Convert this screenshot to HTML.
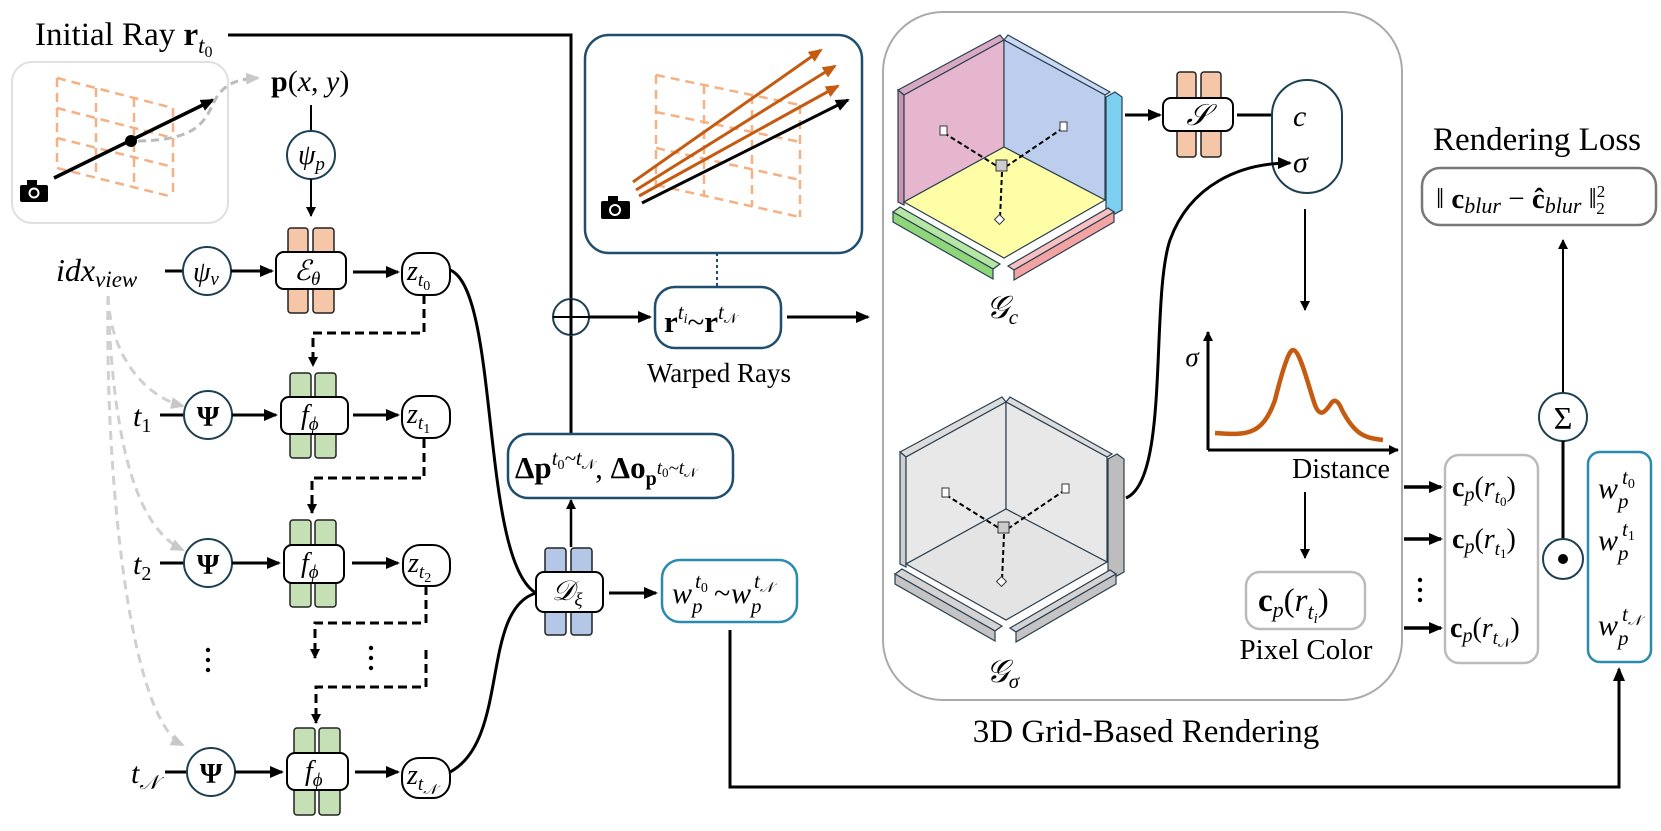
<!DOCTYPE html>
<html><head><meta charset="utf-8"><style>
html,body{margin:0;padding:0;background:#fff}
svg{display:block}
text{font-family:"Liberation Serif",serif;fill:#000}
.i{font-style:italic}
.b{font-weight:bold}
</style></head><body>
<svg width="1661" height="831" viewBox="0 0 1661 831" xmlns="http://www.w3.org/2000/svg">
<defs>
<marker id="ah" markerUnits="userSpaceOnUse" markerWidth="14" markerHeight="12" refX="12" refY="6" orient="auto"><path d="M0,0 L14,6 L0,12 z" fill="#000"/></marker>
<marker id="as" markerUnits="userSpaceOnUse" markerWidth="10" markerHeight="10" refX="9" refY="5" orient="auto"><path d="M0,0 L10,5 L0,10 z" fill="#000"/></marker>
<marker id="ag" markerUnits="userSpaceOnUse" markerWidth="14" markerHeight="12" refX="12" refY="6" orient="auto"><path d="M0,0 L14,6 L0,12 z" fill="#c8c8c8"/></marker>
<marker id="ao" markerUnits="userSpaceOnUse" markerWidth="14" markerHeight="12" refX="12" refY="6" orient="auto"><path d="M0,0 L14,6 L0,12 z" fill="#c55a11"/></marker>
</defs>

<!-- Initial ray -->
<text x="35" y="45" font-size="33">Initial Ray <tspan class="b">r</tspan><tspan class="i" font-size="23" dy="8">t</tspan><tspan font-size="16" dy="4">0</tspan></text>
<path d="M228,35 H571 V434" fill="none" stroke="#000" stroke-width="3"/>

<!-- left image box -->
<rect x="12" y="62" width="216" height="161" rx="20" fill="#fff" stroke="#e0e0e0" stroke-width="2"/>
<g stroke="#f4b183" stroke-width="2.5" stroke-dasharray="9 6" fill="none">
<line x1="57" y1="78" x2="173" y2="108"/><line x1="57" y1="108" x2="173" y2="138"/><line x1="57" y1="138" x2="173" y2="167"/><line x1="57" y1="168" x2="173" y2="197"/>
<line x1="57" y1="78" x2="57" y2="168"/><line x1="96" y1="88" x2="96" y2="178"/><line x1="134" y1="98" x2="134" y2="188"/><line x1="173" y1="108" x2="173" y2="197"/>
</g>
<line x1="54" y1="178" x2="213" y2="100" stroke="#000" stroke-width="3.5" marker-end="url(#ah)"/>
<circle cx="131" cy="141" r="6" fill="#000"/>
<path d="M138,141 C200,140 205,120 215,100 C225,82 240,79 258,78" fill="none" stroke="#bbb" stroke-width="3" stroke-dasharray="8 5" marker-end="url(#ag)"/>
<g><rect x="20" y="185" width="28" height="17" rx="2" fill="#000"/><rect x="27" y="180" width="10" height="6" fill="#000"/><circle cx="34" cy="193" r="5.5" fill="#fff"/><circle cx="34" cy="193" r="3.5" fill="#000"/></g>

<text x="271" y="91" font-size="30"><tspan class="b">p</tspan>(<tspan class="i">x</tspan>, <tspan class="i">y</tspan>)</text>
<line x1="311" y1="105" x2="311" y2="131" stroke="#000" stroke-width="2"/>
<circle cx="311" cy="155" r="24" fill="#fff" stroke="#1d3f52" stroke-width="2"/>
<text x="298" y="164" font-size="28" class="i">ψ<tspan font-size="19" dy="6">p</tspan></text>
<line x1="311" y1="179" x2="311" y2="216" stroke="#000" stroke-width="2" marker-end="url(#as)"/>

<!-- E theta -->
<rect x="288" y="228" width="20" height="85" rx="3" fill="#f5c6a8" stroke="#222" stroke-width="1.5"/>
<rect x="313" y="228" width="21" height="85" rx="3" fill="#f5c6a8" stroke="#222" stroke-width="1.5"/>
<rect x="276" y="252" width="70" height="37" rx="8" fill="#fff" stroke="#000" stroke-width="2"/>
<text x="294" y="280" font-size="28" class="i">ℰ<tspan font-size="19" dy="5">θ</tspan></text>

<text x="56" y="281" font-size="32" class="i">idx<tspan font-size="23" dy="6">view</tspan></text>
<line x1="165" y1="271" x2="183" y2="271" stroke="#000" stroke-width="3"/>
<circle cx="207" cy="271" r="24" fill="#fff" stroke="#1d3f52" stroke-width="2"/>
<text x="193" y="281" font-size="28" class="i">ψ<tspan font-size="19" dy="4">v</tspan></text>
<line x1="231" y1="271" x2="272" y2="271" stroke="#000" stroke-width="3" marker-end="url(#ah)"/>
<line x1="353" y1="272" x2="398" y2="272" stroke="#000" stroke-width="3" marker-end="url(#ah)"/>
<rect x="402" y="253" width="48" height="42" rx="17" fill="#fff" stroke="#000" stroke-width="2"/>
<text x="407" y="280" font-size="28" class="i">z<tspan font-size="19" dy="6">t</tspan><tspan font-size="14" dy="4" font-style="normal">0</tspan></text>

<!-- gray dashed curves -->
<g fill="none" stroke="#d0d0d0" stroke-width="3" stroke-dasharray="9 6">
<path d="M108,296 C110,350 140,395 183,406" marker-end="url(#ag)"/>
<path d="M108,296 C112,420 130,525 183,550" marker-end="url(#ag)"/>
<path d="M108,296 C105,480 130,720 183,745" marker-end="url(#ag)"/>
</g>

<!-- rows -->
<g>
<text x="133" y="426" font-size="30" class="i">t<tspan font-size="20" dy="6" font-style="normal">1</tspan></text>
<line x1="160" y1="415" x2="184" y2="415" stroke="#000" stroke-width="3"/>
<circle cx="208" cy="415" r="24" fill="#fff" stroke="#1d3f52" stroke-width="2"/>
<text x="208" y="426" font-size="29" class="b" text-anchor="middle">Ψ</text>
<line x1="232" y1="415" x2="276" y2="415" stroke="#000" stroke-width="3" marker-end="url(#ah)"/>
<rect x="290" y="373" width="21" height="85" rx="3" fill="#c5e0b4" stroke="#222" stroke-width="1.5"/>
<rect x="315" y="373" width="21" height="85" rx="3" fill="#c5e0b4" stroke="#222" stroke-width="1.5"/>
<rect x="281" y="397" width="67" height="37" rx="8" fill="#fff" stroke="#000" stroke-width="2"/>
<text x="301" y="424" font-size="28" class="i">f<tspan font-size="19" dy="6">ϕ</tspan></text>
<line x1="353" y1="415" x2="398" y2="415" stroke="#000" stroke-width="3" marker-end="url(#ah)"/>
<rect x="402" y="396" width="48" height="42" rx="17" fill="#fff" stroke="#000" stroke-width="2"/>
<text x="407" y="423" font-size="28" class="i">z<tspan font-size="19" dy="6">t</tspan><tspan font-size="14" dy="4" font-style="normal">1</tspan></text>
</g>
<g>
<text x="133" y="574" font-size="30" class="i">t<tspan font-size="20" dy="6" font-style="normal">2</tspan></text>
<line x1="160" y1="563" x2="184" y2="563" stroke="#000" stroke-width="3"/>
<circle cx="208" cy="563" r="24" fill="#fff" stroke="#1d3f52" stroke-width="2"/>
<text x="208" y="574" font-size="29" class="b" text-anchor="middle">Ψ</text>
<line x1="232" y1="563" x2="279" y2="563" stroke="#000" stroke-width="3" marker-end="url(#ah)"/>
<rect x="290" y="520" width="21" height="87" rx="3" fill="#c5e0b4" stroke="#222" stroke-width="1.5"/>
<rect x="315" y="520" width="21" height="87" rx="3" fill="#c5e0b4" stroke="#222" stroke-width="1.5"/>
<rect x="284" y="545" width="60" height="38" rx="8" fill="#fff" stroke="#000" stroke-width="2"/>
<text x="301" y="572" font-size="28" class="i">f<tspan font-size="19" dy="6">ϕ</tspan></text>
<line x1="352" y1="563" x2="398" y2="563" stroke="#000" stroke-width="3" marker-end="url(#ah)"/>
<rect x="403" y="545" width="47" height="41" rx="17" fill="#fff" stroke="#000" stroke-width="2"/>
<text x="408" y="572" font-size="28" class="i">z<tspan font-size="19" dy="6">t</tspan><tspan font-size="14" dy="4" font-style="normal">2</tspan></text>
</g>
<g>
<text x="131" y="783" font-size="30" class="i">t<tspan font-size="20" dy="6">𝒩</tspan></text>
<line x1="165" y1="772" x2="187" y2="772" stroke="#000" stroke-width="3"/>
<circle cx="211" cy="772" r="24" fill="#fff" stroke="#1d3f52" stroke-width="2"/>
<text x="211" y="783" font-size="29" class="b" text-anchor="middle">Ψ</text>
<line x1="235" y1="772" x2="282" y2="772" stroke="#000" stroke-width="3" marker-end="url(#ah)"/>
<rect x="294" y="728" width="21" height="87" rx="3" fill="#c5e0b4" stroke="#222" stroke-width="1.5"/>
<rect x="319" y="728" width="21" height="87" rx="3" fill="#c5e0b4" stroke="#222" stroke-width="1.5"/>
<rect x="287" y="753" width="61" height="37" rx="8" fill="#fff" stroke="#000" stroke-width="2"/>
<text x="305" y="780" font-size="28" class="i">f<tspan font-size="19" dy="6">ϕ</tspan></text>
<line x1="355" y1="772" x2="398" y2="772" stroke="#000" stroke-width="3" marker-end="url(#ah)"/>
<rect x="402" y="758" width="48" height="40" rx="17" fill="#fff" stroke="#000" stroke-width="2"/>
<text x="407" y="784" font-size="28" class="i">z<tspan font-size="19" dy="6">t</tspan><tspan font-size="14" dy="4">𝒩</tspan></text>
</g>

<!-- dashed chain -->
<g fill="none" stroke="#000" stroke-width="3" stroke-dasharray="9 5">
<path d="M424,295 V333 H313 V366" marker-end="url(#as)"/>
<path d="M424,439 V478 H312 V513" marker-end="url(#as)"/>
<path d="M426,586 V623 H315 V658" marker-end="url(#as)"/>
<path d="M426,650 V687 H316 V723" marker-end="url(#as)"/>
</g>
<g fill="#000"><circle cx="208" cy="650" r="2.2"/><circle cx="208" cy="660" r="2.2"/><circle cx="208" cy="670" r="2.2"/>
<circle cx="371" cy="648" r="2.2"/><circle cx="371" cy="658" r="2.2"/><circle cx="371" cy="668" r="2.2"/></g>

<!-- curves to D -->
<path d="M450,270 C500,290 480,560 536,593" fill="none" stroke="#000" stroke-width="3"/>
<path d="M450,772 C510,740 480,610 536,593" fill="none" stroke="#000" stroke-width="3"/>

<!-- D xi -->
<rect x="545" y="548" width="21" height="87" rx="3" fill="#b4c7e7" stroke="#222" stroke-width="1.5"/>
<rect x="571" y="548" width="21" height="87" rx="3" fill="#b4c7e7" stroke="#222" stroke-width="1.5"/>
<rect x="536" y="572" width="67" height="40" rx="8" fill="#fff" stroke="#000" stroke-width="2"/>
<text x="552" y="600" font-size="28" class="i">𝒟<tspan font-size="19" dy="6">ξ</tspan></text>
<line x1="571" y1="547" x2="571" y2="500" stroke="#000" stroke-width="2.5" marker-end="url(#as)"/>
<line x1="609" y1="593" x2="656" y2="593" stroke="#000" stroke-width="3" marker-end="url(#ah)"/>

<rect x="508" y="434" width="225" height="64" rx="20" fill="#fff" stroke="#1f4e6e" stroke-width="2.5"/>
<text x="515" y="478" font-size="31"><tspan class="b">Δp</tspan><tspan class="i" font-size="21" dy="-13">t</tspan><tspan font-size="14" dy="4">0</tspan><tspan class="i" font-size="21" dy="-4">~t</tspan><tspan font-size="14" dy="4">𝒩</tspan><tspan dy="9">, </tspan><tspan class="b">Δo</tspan><tspan class="b" font-size="20" dy="7">p</tspan><tspan class="i" font-size="19" dy="-11">t</tspan><tspan font-size="13" dy="3">0</tspan><tspan class="i" font-size="19" dy="-3">~t</tspan><tspan font-size="13" dy="3">𝒩</tspan></text>

<rect x="662" y="560" width="135" height="62" rx="18" fill="#fff" stroke="#2a8ab0" stroke-width="2.5"/>
<text x="672" y="603" font-size="30" class="i">w</text><text x="692" y="613" font-size="21" class="i">p</text><text x="695" y="588" font-size="21" class="i">t<tspan font-size="14" dy="4" font-style="normal">0</tspan></text>
<text x="714" y="603" font-size="30">~</text>
<text x="731" y="603" font-size="30" class="i">w</text><text x="751" y="613" font-size="21" class="i">p</text><text x="754" y="588" font-size="21" class="i">t<tspan font-size="14" dy="4">𝒩</tspan></text>

<path d="M730,630 V787 H1619 V669" fill="none" stroke="#000" stroke-width="3" marker-end="url(#ah)"/>

<!-- Warped rays -->
<rect x="585" y="35" width="277" height="218" rx="24" fill="#fff" stroke="#1f4e6e" stroke-width="2.5"/>
<g stroke="#f4b183" stroke-width="2.5" stroke-dasharray="9 6" fill="none">
<line x1="656" y1="75" x2="800" y2="105"/><line x1="656" y1="112" x2="800" y2="142"/><line x1="656" y1="148" x2="800" y2="180"/><line x1="656" y1="185" x2="800" y2="217"/>
<line x1="656" y1="75" x2="656" y2="185"/><line x1="704" y1="85" x2="704" y2="196"/><line x1="752" y1="95" x2="752" y2="206"/><line x1="800" y1="105" x2="800" y2="217"/>
</g>
<g stroke="#c55a11" stroke-width="3" fill="none">
<line x1="633" y1="182" x2="821" y2="50" marker-end="url(#ao)"/>
<line x1="636" y1="190" x2="835" y2="66" marker-end="url(#ao)"/>
<line x1="639" y1="196" x2="838" y2="86" marker-end="url(#ao)"/>
</g>
<line x1="642" y1="203" x2="848" y2="100" stroke="#000" stroke-width="3" marker-end="url(#ah)"/>
<g><rect x="601" y="201" width="29" height="18" rx="2" fill="#000"/><rect x="608" y="196" width="10" height="6" fill="#000"/><circle cx="615" cy="210" r="6" fill="#fff"/><circle cx="615" cy="210" r="4" fill="#000"/></g>
<line x1="717" y1="253" x2="717" y2="287" stroke="#1f4e6e" stroke-width="2" stroke-dasharray="3 3"/>

<circle cx="571" cy="317" r="18" fill="#fff" stroke="#1d3f52" stroke-width="2"/>
<line x1="553" y1="317" x2="589" y2="317" stroke="#000" stroke-width="2"/>
<line x1="571" y1="299" x2="571" y2="335" stroke="#000" stroke-width="3"/>
<line x1="589" y1="317" x2="650" y2="317" stroke="#000" stroke-width="3" marker-end="url(#ah)"/>
<rect x="655" y="287" width="126" height="61" rx="20" fill="#fff" stroke="#1f4e6e" stroke-width="2.5"/>
<text x="664" y="332" font-size="31"><tspan class="b">r</tspan><tspan class="i" font-size="21" dy="-13">t</tspan><tspan class="i" font-size="14" dy="4">i</tspan><tspan dy="9">~</tspan><tspan class="b">r</tspan><tspan class="i" font-size="21" dy="-13">t</tspan><tspan font-size="14" dy="4">𝒩</tspan></text>
<text x="719" y="382" font-size="27" text-anchor="middle">Warped Rays</text>
<line x1="787" y1="317" x2="868" y2="317" stroke="#000" stroke-width="3" marker-end="url(#ah)"/>

<!-- container -->
<rect x="883" y="12" width="519" height="688" rx="60" fill="none" stroke="#aaa" stroke-width="2"/>
<text x="1146" y="742" font-size="33" text-anchor="middle">3D Grid-Based Rendering</text>

<!-- Gc cube -->
<g stroke="#2a3f50" stroke-width="1.2">
<polygon points="898,90 1000,35 1004,40 904,95" fill="#d7a9c2"/>
<polygon points="898,90 904,95 904,205 898,202" fill="#c994b0"/>
<polygon points="904,95 1004,40 1004,147 904,202" fill="#e6b6cf"/>
<polygon points="1004,40 1008,35 1110,92 1105,95" fill="#cad9f3"/>
<polygon points="1004,40 1105,95 1105,200 1004,147" fill="#bccdee"/>
<polygon points="1004,147 1105,200 1004,258 904,202" fill="#fefea6"/>
<polygon points="1106,97 1115,92 1122,97 1122,210 1113,215 1106,210" fill="#7ccfee"/>
<polygon points="893,212 900,207 1000,264 993,269" fill="#b5e6a3"/>
<polygon points="893,212 993,269 993,279 893,222" fill="#8fd67a"/>
<polygon points="1008,266 1108,208 1114,212 1014,270" fill="#f8c0c0"/>
<polygon points="1014,270 1114,212 1114,222 1014,280" fill="#f4a3a3"/>
</g>
<g stroke="#000" stroke-width="2" stroke-dasharray="5 3" fill="none"><line x1="944" y1="133" x2="1000" y2="168"/><line x1="1063" y1="128" x2="1004" y2="168"/><line x1="1002" y1="172" x2="1000" y2="218"/></g>
<rect x="996" y="160" width="11" height="11" fill="#ccc" stroke="#333"/>
<rect x="940" y="126" width="7" height="9" fill="#fff" stroke="#333"/><rect x="1060" y="122" width="7" height="9" fill="#fff" stroke="#333"/>
<rect x="996" y="216" width="7" height="7" fill="#fff" stroke="#333" transform="rotate(45 999.5 219.5)"/>
<text x="986" y="318" font-size="32" class="i">𝒢<tspan font-size="21" dy="6">c</tspan></text>

<!-- Gsigma cube -->
<g transform="translate(2,362)">
<g stroke="#2a3f50" stroke-width="1.2">
<polygon points="898,90 1000,35 1004,40 904,95" fill="#dcdcdc"/>
<polygon points="898,90 904,95 904,205 898,202" fill="#cfcfcf"/>
<polygon points="904,95 1004,40 1004,147 904,202" fill="#e8e8e8"/>
<polygon points="1004,40 1008,35 1110,92 1105,95" fill="#dcdcdc"/>
<polygon points="1004,40 1105,95 1105,200 1004,147" fill="#e8e8e8"/>
<polygon points="1004,147 1105,200 1004,258 904,202" fill="#e4e4e4"/>
<polygon points="1106,97 1115,92 1122,97 1122,210 1113,215 1106,210" fill="#bdbdbd"/>
<polygon points="893,212 900,207 1000,264 993,269" fill="#d4d4d4"/>
<polygon points="893,212 993,269 993,279 893,222" fill="#c4c4c4"/>
<polygon points="1008,266 1108,208 1114,212 1014,270" fill="#d4d4d4"/>
<polygon points="1014,270 1114,212 1114,222 1014,280" fill="#c4c4c4"/>
</g>
<g stroke="#000" stroke-width="2" stroke-dasharray="5 3" fill="none"><line x1="944" y1="133" x2="1000" y2="168"/><line x1="1063" y1="128" x2="1004" y2="168"/><line x1="1002" y1="172" x2="1000" y2="218"/></g>
<rect x="996" y="160" width="11" height="11" fill="#ccc" stroke="#333"/>
<rect x="940" y="126" width="7" height="9" fill="#fff" stroke="#333"/><rect x="1060" y="122" width="7" height="9" fill="#fff" stroke="#333"/>
<rect x="996" y="216" width="7" height="7" fill="#fff" stroke="#333" transform="rotate(45 999.5 219.5)"/>
</g>
<text x="986" y="682" font-size="32" class="i">𝒢<tspan font-size="21" dy="6">σ</tspan></text>

<!-- S block -->
<line x1="1125" y1="115" x2="1160" y2="115" stroke="#000" stroke-width="3" marker-end="url(#ah)"/>
<rect x="1177" y="72" width="19" height="85" rx="3" fill="#f5c6a8" stroke="#222" stroke-width="1.5"/>
<rect x="1201" y="72" width="20" height="85" rx="3" fill="#f5c6a8" stroke="#222" stroke-width="1.5"/>
<rect x="1163" y="98" width="70" height="33" rx="8" fill="#fff" stroke="#000" stroke-width="2"/>
<text x="1198" y="125" font-size="30" class="i" text-anchor="middle">𝒮</text>
<line x1="1237" y1="115" x2="1290" y2="115" stroke="#000" stroke-width="3" marker-end="url(#ah)"/>
<rect x="1272" y="80" width="70" height="113" rx="35" fill="#fff" stroke="#1d3f52" stroke-width="2"/>
<text x="1293" y="126" font-size="30" class="i">c</text>
<text x="1293" y="172" font-size="30" class="i">σ</text>
<path d="M1126,498 C1170,480 1150,300 1170,240 C1190,185 1240,163 1290,163" fill="none" stroke="#000" stroke-width="3" marker-end="url(#ah)"/>
<line x1="1305" y1="209" x2="1305" y2="310" stroke="#000" stroke-width="2" marker-end="url(#as)"/>

<!-- distribution plot -->
<line x1="1208" y1="450" x2="1208" y2="332" stroke="#000" stroke-width="3" marker-end="url(#as)"/>
<line x1="1208" y1="450" x2="1398" y2="450" stroke="#000" stroke-width="3" marker-end="url(#as)"/>
<text x="1192" y="366" font-size="27" class="i" text-anchor="middle">σ</text>
<path d="M1215,433 C1245,435 1262,437 1275,400 C1285,360 1290,350 1293,350 C1300,350 1308,385 1315,405 C1320,418 1325,412 1330,405 C1334,398 1338,400 1342,410 C1355,435 1365,438 1383,440" fill="none" stroke="#c55a11" stroke-width="4.5"/>
<text x="1341" y="478" font-size="28" text-anchor="middle">Distance</text>
<line x1="1305" y1="492" x2="1305" y2="558" stroke="#000" stroke-width="2" marker-end="url(#as)"/>
<rect x="1246" y="572" width="119" height="57" rx="14" fill="#fff" stroke="#bbb" stroke-width="2.5"/>
<text x="1258" y="611" font-size="33"><tspan class="b">c</tspan><tspan class="i" font-size="22" dy="6">p</tspan><tspan dy="-6">(</tspan><tspan class="i">r</tspan><tspan class="i" font-size="22" dy="8">t</tspan><tspan class="i" font-size="15" dy="4">i</tspan><tspan dy="-12">)</tspan></text>
<text x="1306" y="659" font-size="29" text-anchor="middle">Pixel Color</text>

<!-- right side -->
<text x="1537" y="150" font-size="33" text-anchor="middle">Rendering Loss</text>
<rect x="1422" y="168" width="234" height="57" rx="18" fill="#fff" stroke="#777" stroke-width="2.5"/>
<text x="1436" y="208" font-size="29">‖ <tspan class="b">c</tspan><tspan class="i" font-size="22" dy="5">blur</tspan><tspan dy="-5"> − </tspan><tspan class="b">ĉ</tspan><tspan class="i" font-size="22" dy="5">blur</tspan><tspan dy="-5"> ‖</tspan><tspan font-size="17" dy="-11">2</tspan><tspan font-size="17" dx="-9" dy="17">2</tspan></text>
<line x1="1563" y1="393" x2="1563" y2="240" stroke="#000" stroke-width="2" marker-end="url(#as)"/>
<circle cx="1563" cy="417" r="24" fill="#fff" stroke="#1d3f52" stroke-width="2"/>
<text x="1563" y="429" font-size="32" text-anchor="middle">Σ</text>
<line x1="1563" y1="441" x2="1563" y2="539" stroke="#000" stroke-width="3"/>
<circle cx="1563" cy="559" r="20" fill="#fff" stroke="#1d3f52" stroke-width="2"/>
<circle cx="1563" cy="559" r="5" fill="#000"/>

<g stroke="#000" stroke-width="3.5">
<line x1="1404" y1="487" x2="1441" y2="487" marker-end="url(#ah)"/>
<line x1="1404" y1="539" x2="1441" y2="539" marker-end="url(#ah)"/>
<line x1="1404" y1="628" x2="1441" y2="628" marker-end="url(#ah)"/>
</g>
<g fill="#000"><circle cx="1420" cy="580" r="2.2"/><circle cx="1420" cy="590" r="2.2"/><circle cx="1420" cy="600" r="2.2"/></g>
<rect x="1445" y="455" width="93" height="208" rx="14" fill="#fff" stroke="#bbb" stroke-width="2.5"/>
<g font-size="28">
<text x="1452" y="496"><tspan class="b">c</tspan><tspan class="i" font-size="20" dy="5">p</tspan><tspan dy="-5">(</tspan><tspan class="i">r</tspan><tspan class="i" font-size="19" dy="7">t</tspan><tspan font-size="13" dy="3">0</tspan><tspan dy="-10">)</tspan></text>
<text x="1452" y="548"><tspan class="b">c</tspan><tspan class="i" font-size="20" dy="5">p</tspan><tspan dy="-5">(</tspan><tspan class="i">r</tspan><tspan class="i" font-size="19" dy="7">t</tspan><tspan font-size="13" dy="3">1</tspan><tspan dy="-10">)</tspan></text>
<text x="1450" y="637"><tspan class="b">c</tspan><tspan class="i" font-size="20" dy="5">p</tspan><tspan dy="-5">(</tspan><tspan class="i">r</tspan><tspan class="i" font-size="19" dy="7">t</tspan><tspan font-size="13" dy="3">𝒩</tspan><tspan dy="-10">)</tspan></text>
</g>
<rect x="1588" y="452" width="63" height="210" rx="12" fill="#fff" stroke="#2a8ab0" stroke-width="2.5"/>
<g>
<text x="1598" y="498" font-size="30" class="i">w</text><text x="1618" y="508" font-size="21" class="i">p</text><text x="1622" y="484" font-size="21" class="i">t<tspan font-size="14" dy="4" font-style="normal">0</tspan></text>
<text x="1598" y="550" font-size="30" class="i">w</text><text x="1618" y="560" font-size="21" class="i">p</text><text x="1622" y="536" font-size="21" class="i">t<tspan font-size="14" dy="4" font-style="normal">1</tspan></text>
<text x="1598" y="635" font-size="30" class="i">w</text><text x="1618" y="645" font-size="21" class="i">p</text><text x="1622" y="621" font-size="21" class="i">t<tspan font-size="14" dy="4">𝒩</tspan></text>
</g>
</svg>
</body></html>
